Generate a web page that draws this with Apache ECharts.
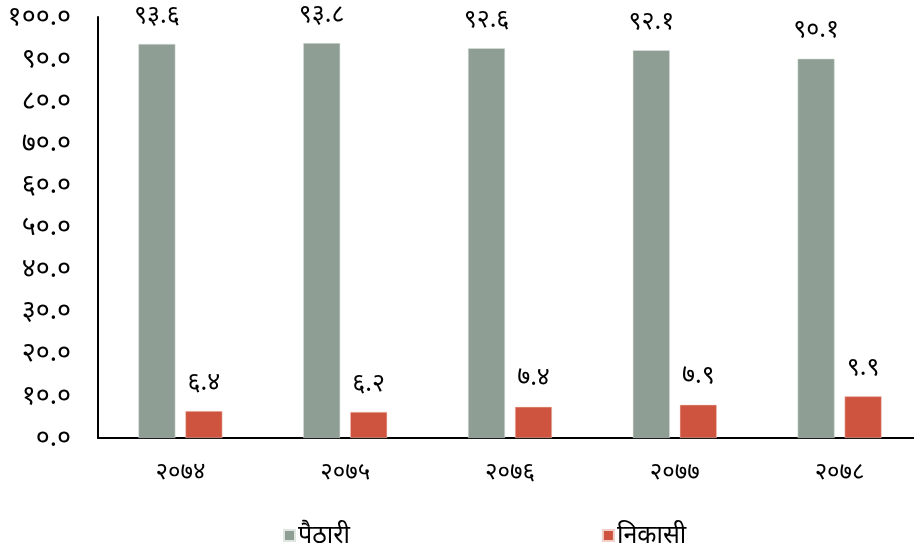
<!DOCTYPE html>
<html><head><meta charset="utf-8">
<script src="https://cdn.jsdelivr.net/npm/echarts@6/dist/echarts.min.js"></script>
<style>html,body{margin:0;padding:0;background:#fff;overflow:hidden}#c{width:924px;height:551px}</style>
</head><body><div id="c"></div>
<script>
var categories = ['२०७४','२०७५','२०७६','२०७७','२०७८'];
var importVals = [93.6, 93.8, 92.6, 92.1, 90.1];
var exportVals = [6.4, 6.2, 7.4, 7.9, 9.9];
var importLabels = ['९३.६','९३.८','९२.६','९२.१','९०.१'];
var exportLabels = ['६.४','६.२','७.४','७.९','९.९'];
var seriesNames = ['पैठारी','निकासी'];
var digits = '०१२३४५६७८९';
function toDev(s){return String(s).replace(/[0-9]/g,function(d){return digits[+d];});}
var font = '"Noto Sans", "Noto Sans Devanagari", sans-serif';
var chart = echarts.init(document.getElementById('c'));
chart.setOption({
  animation:false,
  textStyle:{fontFamily:font},
  grid:{left:98,right:2,top:17,bottom:113,containLabel:false},
  legend:{top:518,left:278,itemGap:252,itemWidth:11,itemHeight:11,icon:'rect',
    textStyle:{fontSize:25,color:'#000',fontFamily:font,padding:[0,0,0,-2]},data:seriesNames},
  xAxis:{type:'category',data:categories,
    axisLine:{lineStyle:{color:'#000',width:2}},axisTick:{show:false},
    axisLabel:{fontSize:24,color:'#000',margin:22,fontFamily:font}},
  yAxis:{type:'value',min:0,max:100,interval:10,
    axisLine:{show:true,lineStyle:{color:'#000',width:2}},axisTick:{show:false},splitLine:{show:false},
    axisLabel:{fontSize:27,color:'#000',margin:27,fontFamily:font,formatter:function(v){return toDev(v.toFixed(1));}}},
  series:[
    {name:seriesNames[0],type:'bar',data:importVals,barWidth:37,barGap:'27%',
     itemStyle:{color:'#8f9e94',borderColor:'#dfe5e1',borderWidth:0.5},
     label:{show:true,position:'top',distance:16,fontSize:25,color:'#000',fontFamily:font,
       formatter:function(p){return importLabels[p.dataIndex];}}},
    {name:seriesNames[1],type:'bar',data:exportVals,barWidth:37,
     itemStyle:{color:'#cf5440',borderColor:'#f0d0c8',borderWidth:0.5},
     label:{show:true,position:'top',distance:16,fontSize:25,color:'#000',fontFamily:font,
       formatter:function(p){return exportLabels[p.dataIndex];}}}
  ]
});
</script></body></html>
